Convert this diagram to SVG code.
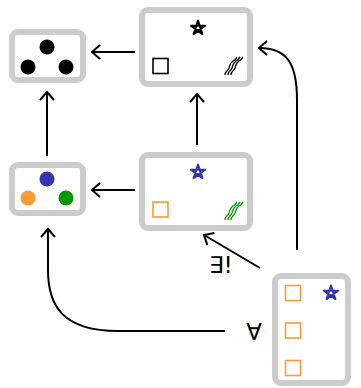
<svg xmlns="http://www.w3.org/2000/svg" width="361" height="388" viewBox="0 0 361 388">
<style>
.box{fill:#fff;stroke:#cccccc;stroke-width:6}
.edge{fill:none;stroke:#000;stroke-width:2}
.lbl{font-family:"DejaVu Sans",sans-serif;font-size:23px;fill:#000}
.sq{fill:none;stroke-width:1.6}
.st{fill:none;stroke-width:2;stroke-linejoin:round}
.wv{fill:none;stroke-width:1.3}
</style>
<defs>
<marker id="ah" markerUnits="userSpaceOnUse" markerWidth="20" markerHeight="20" refX="0" refY="0" viewBox="-12 -10 14 20" orient="auto">
<path d="M -8 -7 L 0 0 L -8 7" fill="none" stroke="#000" stroke-width="2"/>
</marker>
<path id="star" d="M 0 -7.5 L 4.41 6.07 L -7.13 -2.32 L 7.13 -2.32 L -4.41 6.07 Z"/>
<g id="wave">
<path d="M -8 9 C -8 5 -5 5 -4 2 C -3 -1 -3 -3 0 -5 C 3 -6 3 -8 4 -9"/>
<path d="M -5 9 C -5 5 -2 5 -1 2 C 0 -1 0 -3 3 -5 C 6 -6 6 -8 7 -9"/>
<path d="M -2 9 C -2 5 1 5 2 2 C 3 -1 3 -3 6 -5 C 9 -6 9 -8 10 -9"/>
</g>
</defs>
<g id="connectors">
<path class="edge" d="M 135 52 L 92 52" marker-end="url(#ah)"/>
<path class="edge" d="M 135 190 L 92 190" marker-end="url(#ah)"/>
<path class="edge" d="M 47 156 L 47 92" marker-end="url(#ah)"/>
<path class="edge" d="M 197 145 L 197 94" marker-end="url(#ah)"/>
<path class="edge" d="M 297 250 L 297 100 C 297 62 286 48 259 48" marker-end="url(#ah)"/>
<path class="edge" d="M 260 268 L 204 235" marker-end="url(#ah)"/>
<path class="edge" d="M 225 331 L 118 331 C 62 331 48 305 48 270 L 48 229" marker-end="url(#ah)"/>
<text class="lbl" x="209" y="273">∃!</text>
<text class="lbl" x="254" y="340" text-anchor="middle">∀</text>
</g>
<g id="n1">
<rect class="box" x="12" y="32" width="71" height="48" rx="6"/>
<circle cx="47" cy="47" r="7.5" fill="#000"/>
<circle cx="28" cy="67" r="7.5" fill="#000"/>
<circle cx="66" cy="67" r="7.5" fill="#000"/>
</g>
<g id="n2">
<rect class="box" x="142" y="10" width="108" height="74" rx="6"/>
<use href="#star" class="st" stroke="#000" x="198" y="28"/>
<rect class="sq" stroke="#000" x="153" y="58.5" width="15" height="15"/>
<use href="#wave" class="wv" stroke="#000" x="233" y="66"/>
</g>
<g id="n3">
<rect class="box" x="12" y="165" width="71" height="48" rx="6"/>
<circle cx="47" cy="179" r="7.5" fill="#3333b3"/>
<circle cx="28" cy="198" r="7.5" fill="#ff9933"/>
<circle cx="66" cy="198" r="7.5" fill="#009900"/>
</g>
<g id="n4">
<rect class="box" x="142" y="155" width="108" height="73" rx="6"/>
<use href="#star" class="st" stroke="#3333b3" x="198" y="172"/>
<rect class="sq" stroke="#ff9933" x="153" y="202" width="15" height="15"/>
<use href="#wave" class="wv" stroke="#009900" x="233" y="211"/>
</g>
<g id="n5">
<rect class="box" x="275" y="276" width="73" height="107" rx="6"/>
<rect class="sq" stroke="#ff9933" x="285.5" y="285.5" width="15" height="15"/>
<rect class="sq" stroke="#ff9933" x="285.5" y="323" width="15" height="15"/>
<rect class="sq" stroke="#ff9933" x="285.5" y="360.5" width="15" height="15"/>
<use href="#star" class="st" stroke="#3333b3" x="331" y="293"/>
</g>
</svg>
